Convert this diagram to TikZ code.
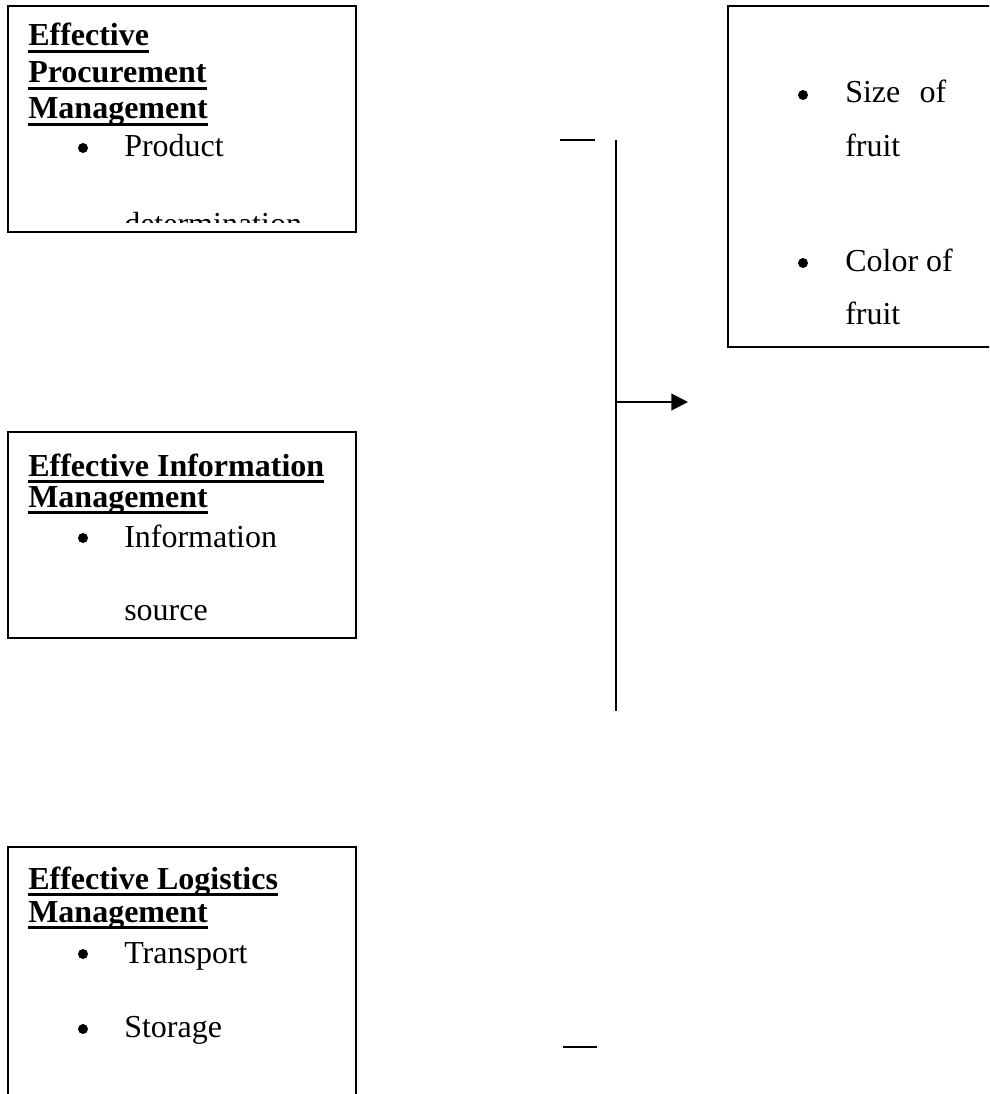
\documentclass[tikz,border=0pt]{standalone}
\usepackage{fontspec}
\setmainfont{Liberation Serif}
\usetikzlibrary{arrows.meta}
\begin{document}
\begin{tikzpicture}[x=0.75pt,y=-0.75pt,
  box/.style={draw,line width=1.5pt},
  txt/.style={anchor=base west,inner sep=0pt,font=\fontsize{24}{28}\selectfont},
  head/.style={anchor=base west,inner sep=0pt,font=\fontsize{24}{28}\selectfont\bfseries},
  dot/.style={circle,fill,inner sep=0pt,minimum size=7.5pt},
  uline/.style={line width=2.2pt},
  conn/.style={line width=1.5pt}]
\clip (0,0) rectangle (989,1094);
\fill[white] (0,0) rectangle (989,1094);
% boxes
\draw[box] (8,6) rectangle (356,232);
\draw[box] (8,432) rectangle (356,638);
\draw[box] (8,847) rectangle (356,1120);
\draw[box] (728,6) rectangle (1010,347);
% box 1
\node[head] (p1) at (28,46) {Effective};
\node[head] (p2) at (28,83) {Procurement};
\node[head] (p3) at (28,119) {Management};
\foreach \n in {p1,p2,p3}
  \draw[uline] ([yshift=-3.8pt]\n.base west) -- ([yshift=-3.8pt]\n.base east);
\node[dot] (pb) at (83,148) {};
\node[txt] (pt1) at (124,157) {Product};
\begin{scope}
\clip (8,6) rectangle (356,223);
\node[txt] (pt2) at (124,235) {determination};
\end{scope}
% box 2
\node[head] (i1) at (28,476) {Effective Information};
\node[head] (i2) at (28,507) {Management};
\foreach \n in {i1,i2}
  \draw[uline] ([yshift=-3.8pt]\n.base west) -- ([yshift=-3.8pt]\n.base east);
\node[dot] (ib) at (83,538) {};
\node[txt] (it1) at (124,547) {Information};
\node[txt] (it2) at (124,620) {source};
% box 3
\node[head] (l1) at (28,889) {Effective Logistics};
\node[head] (l2) at (28,922) {Management};
\foreach \n in {l1,l2}
  \draw[uline] ([yshift=-3.8pt]\n.base west) -- ([yshift=-3.8pt]\n.base east);
\node[dot] (lb1) at (83,954) {};
\node[txt] (lt1) at (124,963) {Transport};
\node[dot] (lb2) at (83,1029) {};
\node[txt] (lt2) at (124,1037) {Storage};
% right box
\node[dot] (rb1) at (803,95) {};
\node[txt] (rt1) at (845,103) {Size\hspace{0.6em}of};
\node[txt] (rt2) at (845,157) {fruit};
\node[dot] (rb2) at (803,263) {};
\node[txt] (rt3) at (845,272) {Color of};
\node[txt] (rt4) at (845,325) {fruit};
% connectors
\coordinate (d1a) at (560,140);
\coordinate (d1b) at (595,140);
\coordinate (d2a) at (563,1047);
\coordinate (d2b) at (597,1047);
\coordinate (vt) at (616,140);
\coordinate (vb) at (616,711);
\coordinate (am) at (616,402);
\coordinate (at) at (688,402);
\draw[conn] (d1a) -- (d1b);
\draw[conn] (d2a) -- (d2b);
\draw[conn] (vt) -- (vb);
\draw[conn,-{Triangle[length=12.5pt,width=12.5pt]}] (am) -- (at);
\end{tikzpicture}
\end{document}
